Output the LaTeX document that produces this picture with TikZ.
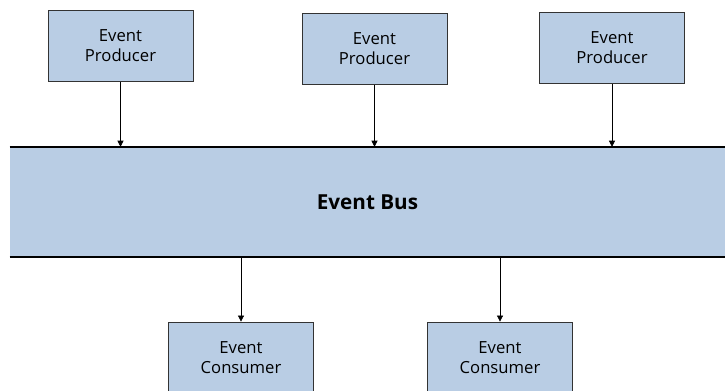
\documentclass[tikz,border=0pt]{standalone}
\usepackage{fontspec}
\setmainfont{Open Sans}
\usetikzlibrary{arrows.meta}

\definecolor{busblue}{RGB}{185,205,228}

\begin{document}
\begin{tikzpicture}[x=0.75pt,y=-0.75pt,
    evbox/.style={draw=black!80,line width=0.6pt,fill=busblue,minimum width=108.75pt,
        minimum height=53.25pt,align=center,font=\fontsize{12.5}{15}\selectfont},
    flow/.style={-{Triangle[length=4.5pt,width=4.5pt]},line width=0.5pt}]
    \clip (0,0) rectangle (725,390);

    % the bus
    \node[fill=busblue,minimum width=536.25pt,minimum height=82.5pt,inner sep=0pt,
        font=\bfseries\fontsize{15.5}{18}\selectfont] (bus) at (367.5,202) {Event Bus};
    \draw[line width=1.6pt] (bus.north west) -- (bus.north east)
        (bus.south west) -- (bus.south east);

    % producers
    \node[evbox] (prod1) at (120.5,46) {Event\\Producer};
    \node[evbox] (prod2) at (374.5,49) {Event\\Producer};
    \node[evbox] (prod3) at (612,48) {Event\\Producer};

    % consumers
    \node[evbox] (cons1) at (241,357.5) {Event\\Consumer};
    \node[evbox] (cons2) at (500,357.5) {Event\\Consumer};

    \draw[flow] (prod1) -- (prod1 |- bus.north);
    \draw[flow] (prod2) -- (prod2 |- bus.north);
    \draw[flow] (prod3) -- (prod3 |- bus.north);
    \draw[flow] (cons1 |- bus.south) -- (cons1);
    \draw[flow] (cons2 |- bus.south) -- (cons2);
\end{tikzpicture}
\end{document}
